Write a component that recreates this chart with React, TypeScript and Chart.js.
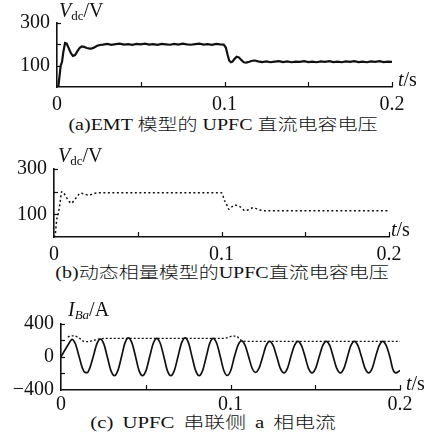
import React, { useEffect, useRef } from "react";
import { Chart, registerables } from "chart.js";

Chart.register(...registerables);

// ---------- data ----------
// (a) EMT model, DC capacitor voltage
const emtTime = [
  0, 0.0008, 0.0015, 0.0022, 0.003, 0.0038, 0.0048, 0.0058, 0.007, 0.0083, 0.0095, 0.0108, 0.0122, 0.0136, 0.0148, 0.0162, 0.0178, 0.0195, 0.021, 0.0225, 0.024, 0.0255,
  0.0275, 0.03, 0.0325, 0.035, 0.0375, 0.04, 0.0425, 0.045, 0.0475, 0.05, 0.0525, 0.055, 0.0575, 0.06, 0.0625, 0.065, 0.0675, 0.07, 0.0725, 0.075, 0.0775, 0.08, 0.0825, 0.085, 0.0875, 0.09, 0.0925, 0.095, 0.0975, 0.0995,
  0.1008, 0.1018, 0.1028, 0.1038, 0.1048, 0.106, 0.1073, 0.1086, 0.11, 0.1115, 0.113, 0.1148, 0.1165, 0.1182, 0.12,
  0.1225, 0.125, 0.1275, 0.13, 0.1325, 0.135, 0.1375, 0.14, 0.1425, 0.145, 0.1475, 0.15, 0.1525, 0.155, 0.1575, 0.16, 0.1625, 0.165, 0.1675, 0.17, 0.1725, 0.175, 0.1775, 0.18, 0.1825, 0.185, 0.1875, 0.19, 0.1925, 0.195, 0.1975, 0.2,
];
const emtVdc = [
  0, 4, 50, 100, 118, 165, 206, 203, 182, 158, 146, 150, 168, 184, 190, 188, 183, 180, 181, 186, 193, 197,
  199, 202, 198, 201, 203, 199, 201, 198, 202, 200, 203, 199, 201, 198, 202, 200, 198, 202, 199, 203, 200, 198, 201, 203, 199, 201, 198, 202, 200, 199,
  185, 152, 124, 116, 119, 132, 142, 139, 127, 116, 114, 118, 123, 124, 120,
  117, 120, 116, 119, 121, 117, 120, 116, 119, 118, 121, 117, 119, 116, 120, 118, 121, 117, 119, 116, 120, 118, 121, 117, 119, 116, 120, 118, 121, 117, 119, 118,
];

// (b) dynamic phasor model, DC capacitor voltage
const dpTime = [
  0, 0.0007, 0.0016, 0.0026, 0.0036, 0.0046, 0.0056, 0.0066, 0.008, 0.0093, 0.0105, 0.0118, 0.013, 0.0143, 0.0155, 0.017, 0.0185, 0.0205, 0.0225, 0.0245, 0.0275,
  0.05, 0.075, 0.0995, 0.1005, 0.1013, 0.1022, 0.103, 0.1038, 0.1045, 0.106, 0.108, 0.1095, 0.111, 0.1125, 0.114, 0.116, 0.119, 0.121, 0.123, 0.126,
  0.15, 0.175, 0.1993,
];
const dpVdc = [
  0, 9, 75, 105, 150, 200, 198, 185, 168, 155, 149, 160, 171, 183, 193, 192, 188, 185, 188, 193, 195,
  195, 195, 195, 192, 171, 155, 144, 130, 122, 132, 141, 138, 134, 124, 116, 120, 129, 124, 119, 116,
  116, 116, 116,
];

// (c) series-side phase-a current (solid) and dynamic phasor envelope (dotted)
const ibTime = [
  0, 0.0044, 0.0065, 0.0086, 0.0107, 0.0127, 0.0141, 0.0155, 0.0169, 0.019,
  0.0211, 0.0232, 0.0253, 0.0273, 0.0294, 0.0315, 0.0336, 0.0357,
  0.0377, 0.0398, 0.0419, 0.044, 0.046, 0.0481, 0.0502, 0.0523,
  0.0544, 0.0565, 0.0586, 0.0607, 0.0627, 0.0648, 0.0669, 0.069,
  0.0711, 0.0732, 0.0753, 0.0773, 0.0794, 0.0815, 0.0836, 0.0857,
  0.0877, 0.0898, 0.0919, 0.094, 0.096, 0.0981, 0.1002, 0.1023,
  0.1044, 0.1065, 0.1086, 0.1107, 0.1127, 0.1148, 0.1169, 0.119,
  0.121, 0.1231, 0.1252, 0.1273, 0.1294, 0.1315, 0.1336, 0.1356,
  0.1377, 0.1398, 0.1419, 0.144, 0.146, 0.1481, 0.1502, 0.1523,
  0.1544, 0.1565, 0.1586, 0.1606, 0.1627, 0.1648, 0.1669, 0.169,
  0.171, 0.1731, 0.1752, 0.1773, 0.1794, 0.1815, 0.1836, 0.1856,
  0.1877, 0.1898, 0.1919, 0.194, 0.1958, 0.1975, 0.2,
];
const ibCurrent = [
  0, 150, 210, 150, 0, -140, -188, -190, -140, 0,
  152, 212, 152, 0, -164, -228, -164, 0,
  164, 228, 164, 0, -164, -228, -164, 0,
  160, 222, 160, 0, -164, -228, -164, 0,
  164, 228, 164, 0, -164, -228, -164, 0,
  160, 222, 160, 0, -162, -225, -162, 0,
  138, 192, 138, 0, -135, -188, -135, 0,
  133, 185, 133, 0, -140, -195, -140, 0,
  133, 185, 133, 0, -140, -195, -140, 0,
  133, 185, 133, 0, -140, -195, -140, 0,
  133, 185, 133, 0, -140, -195, -140, 0,
  133, 185, 133, 0, -150, -195, -165,
];
const envTime = [0.004, 0.006, 0.0075, 0.0095, 0.0115, 0.0135, 0.016, 0.019, 0.022, 0.026, 0.05, 0.075, 0.0965, 0.099, 0.101, 0.1035, 0.1055, 0.1075, 0.11, 0.15, 0.2];
const envCurrent = [240, 250, 252, 240, 215, 185, 182, 195, 212, 220, 222, 222, 222, 235, 248, 248, 210, 188, 185, 185, 185];

// tick values / labels
const timeTicks = [0.05, 0.1, 0.15, 0.2];
const timeLabels = ["0", "0.1", "0.2"];
const vdcTicks = [100, 200, 300];
const vdcLabels = ["100", "300"];
const ibTicks = [-200, 0, 200, 400];
const ibLabels = ["\u2212400", "0", "400"];

const captions = [
  "(a)EMT 模型的 UPFC 直流电容电压",
  "(b)动态相量模型的UPFC直流电容电压",
  "(c) UPFC 串联侧 a 相电流",
];

const SERIF = '"Liberation Serif", "DejaVu Serif", serif';
const CAP_FONT = '"Liberation Serif", "DejaVu Serif", "Noto Sans CJK SC", serif';

function fmtTime(v: number) {
  for (const l of timeLabels) if (Math.abs(Number(l) - v) < 1e-9) return l;
  return "";
}

type Part = { text: string; italic?: boolean; size: number; dy: number };

type PanelCfg = {
  top: number;
  height: number;
  area: { left: number; top: number; right: number; bottom: number };
  xPad: number;
  yMin: number;
  yMax: number;
  yStep: number;
  yTickMarks: number[];
  yLabel: (v: number) => string;
  yTitle: Part[];
  yTitlePos: [number, number];
  tPos: [number, number];
  datasets: any[];
};

function drawParts(ctx: CanvasRenderingContext2D, parts: Part[], x: number, y: number) {
  let cx = x;
  for (const p of parts) {
    ctx.font = `${p.italic ? "italic " : ""}${p.size}px ${SERIF}`;
    ctx.fillText(p.text, cx, y + p.dy);
    cx += ctx.measureText(p.text).width;
  }
}

function Panel({ cfg }: { cfg: PanelCfg }) {
  const ref = useRef<HTMLCanvasElement>(null);
  useEffect(() => {
    const canvas = ref.current!;
    const a = cfg.area;
    let chart: any = null;
    let dead = false;
    const decor = {
      id: "decor",
      afterDraw(ch: any) {
        const { ctx, chartArea, scales } = ch;
        const x = scales.x;
        const y = scales.y;
        ctx.save();
        ctx.strokeStyle = "#111";
        ctx.lineWidth = 1.2;
        for (const v of cfg.yTickMarks) {
          const py = Math.round(y.getPixelForValue(v)) + 0.5;
          ctx.beginPath();
          ctx.moveTo(chartArea.left, py);
          ctx.lineTo(chartArea.left + 4, py);
          ctx.stroke();
        }
        for (const v of timeTicks) {
          const px = Math.round(x.getPixelForValue(v)) + 0.5;
          ctx.beginPath();
          ctx.moveTo(px, chartArea.bottom);
          ctx.lineTo(px, chartArea.bottom - 5);
          ctx.stroke();
        }
        ctx.fillStyle = "#111";
        ctx.textBaseline = "alphabetic";
        ctx.textAlign = "left";
        drawParts(ctx, cfg.yTitle, cfg.yTitlePos[0], cfg.yTitlePos[1]);
        drawParts(
          ctx,
          [
            { text: "t", italic: true, size: 20, dy: 0 },
            { text: "/s", size: 20, dy: 0 },
          ],
          cfg.tPos[0],
          cfg.tPos[1]
        );
        ctx.restore();
      },
    };
    const make = () => {
      if (dead) return;
      chart = new Chart(canvas, {
        type: "line",
        data: { datasets: cfg.datasets },
        options: {
          animation: false,
          responsive: false,
          maintainAspectRatio: false,
          parsing: false,
          layout: { padding: { left: 0, top: a.top, right: 426 - a.right, bottom: 0 } },
          plugins: { legend: { display: false }, tooltip: { enabled: false } },
          elements: { point: { radius: 0 } },
          scales: {
            x: {
              type: "linear",
              min: 0,
              max: 0.2,
              grid: { display: false, drawTicks: false },
              border: { display: true, color: "#111", width: 1.5 },
              ticks: {
                stepSize: 0.05,
                autoSkip: false,
                maxRotation: 0,
                padding: cfg.xPad,
                color: "#111",
                font: { family: SERIF, size: 20 },
                callback: (v: any) => fmtTime(Number(v)),
              },
              afterFit: (s: any) => {
                s.height = cfg.height - a.bottom;
              },
            },
            y: {
              type: "linear",
              min: cfg.yMin,
              max: cfg.yMax,
              grid: { display: false, drawTicks: false },
              border: { display: true, color: "#111", width: 1.6 },
              ticks: {
                stepSize: cfg.yStep,
                autoSkip: false,
                padding: 7,
                color: "#111",
                font: { family: SERIF, size: 20 },
                callback: (v: any) => cfg.yLabel(Number(v)),
              },
              afterFit: (s: any) => {
                s.width = a.left;
              },
            },
          },
        },
        plugins: [decor],
      } as any);
    };
    const fonts: any = (document as any).fonts;
    if (fonts && fonts.load) {
      Promise.all([
        fonts.load('20px "Liberation Serif"'),
        fonts.load('italic 20px "Liberation Serif"'),
      ])
        .catch(() => null)
        .then(make);
    } else {
      make();
    }
    return () => {
      dead = true;
      if (chart) chart.destroy();
    };
  }, [cfg]);
  return (
    <canvas
      ref={ref}
      width={426}
      height={cfg.height}
      style={{ position: "absolute", left: 0, top: cfg.top, width: 426, height: cfg.height }}
    />
  );
}

const toPts = (t: number[], v: number[]) => t.map((x, i) => ({ x, y: v[i] }));

const panels: PanelCfg[] = [
  {
    top: 0,
    height: 112,
    area: { left: 57, top: 23, right: 392, bottom: 87 },
    xPad: 6,
    yMin: 0,
    yMax: 300,
    yStep: 100,
    yTickMarks: vdcTicks,
    yLabel: (v) => (vdcLabels.includes(String(v)) ? String(v) : ""),
    yTitle: [
      { text: "V", italic: true, size: 20, dy: 0 },
      { text: "dc", size: 13, dy: 3 },
      { text: "/V", size: 20, dy: 0 },
    ],
    yTitlePos: [59, 17],
    tPos: [398, 86],
    datasets: [
      {
        data: toPts(emtTime, emtVdc),
        borderColor: "#111",
        borderWidth: 2.2,
        tension: 0,
      },
    ],
  },
  {
    top: 148,
    height: 112,
    area: { left: 54, top: 21, right: 389, bottom: 89 },
    xPad: 6,
    yMin: 0,
    yMax: 300,
    yStep: 100,
    yTickMarks: vdcTicks,
    yLabel: (v) => (vdcLabels.includes(String(v)) ? String(v) : ""),
    yTitle: [
      { text: "V", italic: true, size: 20, dy: 0 },
      { text: "dc", size: 13, dy: 3 },
      { text: "/V", size: 20, dy: 0 },
    ],
    yTitlePos: [58, 14],
    tPos: [391, 88],
    datasets: [
      {
        data: toPts(dpTime, dpVdc),
        borderColor: "#111",
        borderWidth: 1.5,
        borderDash: [2, 2.5],
        cubicInterpolationMode: "monotone",
      },
    ],
  },
  {
    top: 300,
    height: 114,
    area: { left: 61, top: 23.5, right: 400, bottom: 90 },
    xPad: 3,
    yMin: -400,
    yMax: 400,
    yStep: 200,
    yTickMarks: ibTicks,
    yLabel: (v) => {
      if (v === 400) return ibLabels[2];
      if (v === 0) return ibLabels[1];
      if (v === -400) return ibLabels[0];
      return "";
    },
    yTitle: [
      { text: "I", italic: true, size: 20, dy: 0 },
      { text: "Ba", italic: true, size: 13, dy: 3 },
      { text: "/A", size: 20, dy: 0 },
    ],
    yTitlePos: [68, 16],
    tPos: [406, 90],
    datasets: [
      {
        data: toPts(envTime, envCurrent),
        borderColor: "#111",
        borderWidth: 1.3,
        borderDash: [2, 2],
        cubicInterpolationMode: "monotone",
      },
      {
        data: toPts(ibTime, ibCurrent),
        borderColor: "#111",
        borderWidth: 1.7,
        cubicInterpolationMode: "monotone",
      },
    ],
  },
];

const capPos: [number, number][] = [
  [223, 125],
  [222, 273],
  [213, 423],
];
const capWordSpacing = [0, 0, 3];
const capStretch = [1.25, 1.25, 1.3];

export default function App() {
  return (
    <div style={{ position: "absolute", left: 0, top: 0, width: 426, height: 445, background: "#fff" }}>
      {panels.map((p, i) => (
        <Panel key={i} cfg={p} />
      ))}
      {captions.map((c, i) => (
        <div
          key={"c" + i}
          style={{
            position: "absolute",
            left: capPos[i][0],
            top: capPos[i][1],
            transform: `translate(-50%, -50%) scaleX(${capStretch[i]})`,
            whiteSpace: "pre",
            fontFamily: CAP_FONT,
            fontSize: 16,
            fontWeight: 300,
            wordSpacing: capWordSpacing[i],
            lineHeight: 1,
            color: "#111",
          }}
        >
          {c}
        </div>
      ))}
    </div>
  );
}
